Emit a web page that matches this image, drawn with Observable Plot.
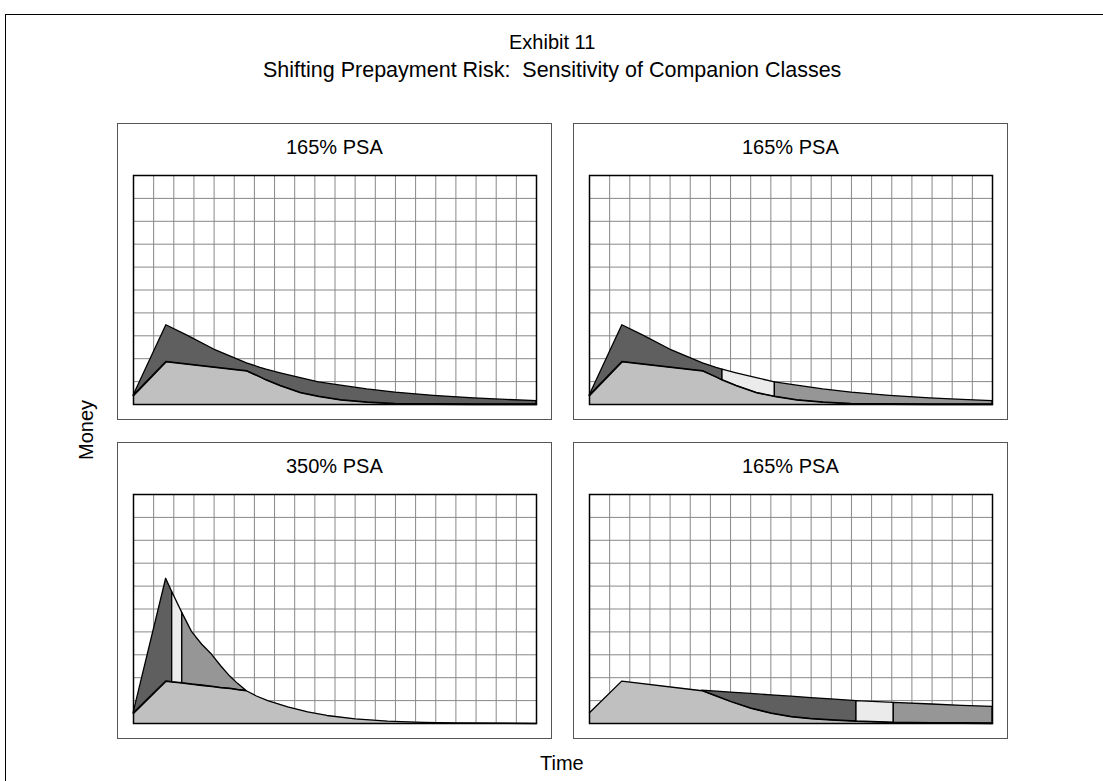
<!DOCTYPE html>
<html>
<head>
<meta charset="utf-8">
<script src="https://cdn.jsdelivr.net/npm/d3@7"></script>
<script src="https://cdn.jsdelivr.net/npm/@observablehq/plot@0.6"></script>
<style>
  html, body { margin: 0; padding: 0; background: #fff; }
  #chart { position: relative; width: 1103px; height: 781px; overflow: hidden; background: #fff;
           font-family: "Liberation Sans", Arial, Helvetica, sans-serif; color: #000; }
  .abs { position: absolute; }
  .txt { position: absolute; white-space: pre; font-size: 20px; line-height: 24px; text-align: center; }
  .box { position: absolute; box-sizing: border-box; border: 1.5px solid #555; background: #fff; }
</style>
</head>
<body>
<div id="chart"></div>
<script>
// ---------------- DATA ----------------
const mainTitle = "Exhibit 11";
const subTitle = "Shifting Prepayment Risk:  Sensitivity of Companion Classes";
const yLabel = "Money";
const xLabel = "Time";
const panelTitles = ["165% PSA", "165% PSA", "350% PSA", "165% PSA"];

// grid ticks (time units / money units)
const gridXTicks = [0,1,2,3,4,5,6,7,8,9,10,11,12,13,14,15,16,17,18,19,20];
const gridYTicks = [0,1,2,3,4,5,6,7,8,9,10];

// classes
const classNames = ["C1", "C2", "C3"];

// Top panels (165% PSA) — same cash-flow profile
const timeTop  = [0, 1.63, 2.7, 4.0, 5.63, 6.3, 6.6, 7.3, 8.3, 9.2, 10.3, 11.6, 13, 14.9, 16.9, 18.5, 20];
const totalTop = [0.38, 3.46, 3.0, 2.4, 1.80, 1.60, 1.52, 1.36, 1.15, 0.97, 0.82, 0.66, 0.52, 0.38, 0.27, 0.20, 0.15];
const pacTop   = [0.38, 1.86, 1.75, 1.62, 1.46, 1.19, 1.06, 0.81, 0.51, 0.34, 0.19, 0.09, 0.03, 0.01, 0, 0, 0];

// Bottom-left panel (350% PSA)
const timeC  = [0, 1.62, 1.92, 2.42, 2.9, 3.4, 3.9, 4.35, 4.8, 5.2, 5.6, 6.1, 6.66, 7.65, 8.64, 9.6, 11, 12.6, 14.3, 16, 18.6, 20];
const totalC = [0.44, 6.32, 5.74, 4.83, 4.0, 3.45, 3.0, 2.5, 2.05, 1.72, 1.43, 1.2, 1.0, 0.73, 0.51, 0.35, 0.2, 0.1, 0.05, 0.03, 0.01, 0];
const pacC   = [0.44, 1.84, 1.81, 1.76, 1.71, 1.66, 1.61, 1.56, 1.52, 1.47, 1.43, 1.2, 1.0, 0.73, 0.51, 0.35, 0.2, 0.1, 0.05, 0.03, 0.01, 0];

// Bottom-right panel (165% PSA)
const timeD  = [0, 1.6, 5.58, 6.16, 7.02, 8.01, 9.02, 10.02, 11.01, 12.0, 13.25, 15.1, 17, 18.5, 20];
const totalD = [0.47, 1.85, 1.43, 1.40, 1.35, 1.29, 1.23, 1.17, 1.11, 1.05, 0.98, 0.905, 0.83, 0.77, 0.73];
const pacD   = [0.47, 1.85, 1.43, 1.24, 0.95, 0.66, 0.44, 0.29, 0.20, 0.15, 0.09, 0.04, 0.02, 0.01, 0];

// companion class time ranges per panel: [class, from, to]
const segA = [["C1", 0, 20]];
const segB = [["C1", 0, 6.6], ["C2", 6.6, 9.2], ["C3", 9.2, 20]];
const segC = [["C1", 0, 1.92], ["C2", 1.92, 2.42], ["C3", 2.42, 5.6]];
const segD = [["C1", 5.58, 13.25], ["C2", 13.25, 15.1], ["C3", 15.1, 20]];

// ---------------- LAYOUT ----------------
const chart = document.getElementById("chart");

function addText(str, cx, cy, rotate, size) {
  const d = document.createElement("div");
  d.className = "txt";
  d.textContent = str;
  if (size) d.style.fontSize = size + "px";
  d.style.left = "0px"; d.style.top = "0px";
  chart.appendChild(d);
  const w = d.offsetWidth, h = d.offsetHeight;
  d.style.left = (cx - w / 2) + "px";
  d.style.top = (cy - h / 2) + "px";
  if (rotate) d.style.transform = "rotate(" + rotate + "deg)";
  return d;
}

// outer frame (left and top edges visible)
const frame = document.createElement("div");
frame.className = "abs";
Object.assign(frame.style, { left: "5px", top: "14px", width: "1300px", height: "1000px",
  borderLeft: "1px solid #000", borderTop: "1px solid #000" });
chart.appendChild(frame);

addText(mainTitle, 552, 42);
addText(subTitle, 552, 70, 0, 21.5);
addText(yLabel, 86, 430, -90);
addText(xLabel, 562, 763);

const boxes = [[117, 123], [573, 123], [117, 442], [573, 442]];
const BOX_W = 435, BOX_H = 297;
const PLOT_W = 403, PLOT_H = 229, M = 2;

const panels = [
  { time: timeTop, total: totalTop, pac: pacTop, seg: segA },
  { time: timeTop, total: totalTop, pac: pacTop, seg: segB },
  { time: timeC, total: totalC, pac: pacC, seg: segC },
  { time: timeD, total: totalD, pac: pacD, seg: segD }
];

panels.forEach((p, i) => {
  const [bx, by] = boxes[i];
  const box = document.createElement("div");
  box.className = "box";
  Object.assign(box.style, { left: bx + "px", top: by + "px", width: BOX_W + "px", height: BOX_H + "px" });
  chart.appendChild(box);
  addText(panelTitles[i], bx + BOX_W / 2, by + 24);

  const rows = p.time.map((t, k) => ({ t, total: p.total[k], pac: p.pac[k] }));
  const segRows = [];
  p.seg.forEach(([cls, from, to]) => {
    rows.forEach(r => { if (r.t >= from - 1e-9 && r.t <= to + 1e-9) segRows.push({ ...r, cls }); });
  });

  const svg = Plot.plot({
    width: PLOT_W + 2 * M,
    height: PLOT_H + 2 * M,
    margin: M,
    style: { background: "transparent", overflow: "visible" },
    x: { domain: [0, 20], axis: null },
    y: { domain: [0, 10], axis: null },
    color: { domain: classNames, range: ["#5f5f5f", "#ebebeb", "#969696"] },
    marks: [
      Plot.ruleX(gridXTicks, { stroke: "#888", strokeWidth: 1 }),
      Plot.ruleY(gridYTicks, { stroke: "#888", strokeWidth: 1 }),
      Plot.areaY(rows, { x: "t", y1: 0, y2: "pac", fill: "#c0c0c0" }),
      Plot.areaY(segRows, { x: "t", y1: "pac", y2: "total", z: "cls", fill: "cls", stroke: "#000", strokeWidth: 1.3, strokeLinejoin: "round" }),
      Plot.lineY(rows, { x: "t", y: "pac", stroke: "#000", strokeWidth: 1.3 }),
      Plot.frame({ stroke: "#000", strokeWidth: 1.5 })
    ]
  });
  svg.style.position = "absolute";
  svg.style.left = (bx + 15.5 - M) + "px";
  svg.style.top = (by + 52 - M) + "px";
  chart.appendChild(svg);
});
</script>
</body>
</html>
